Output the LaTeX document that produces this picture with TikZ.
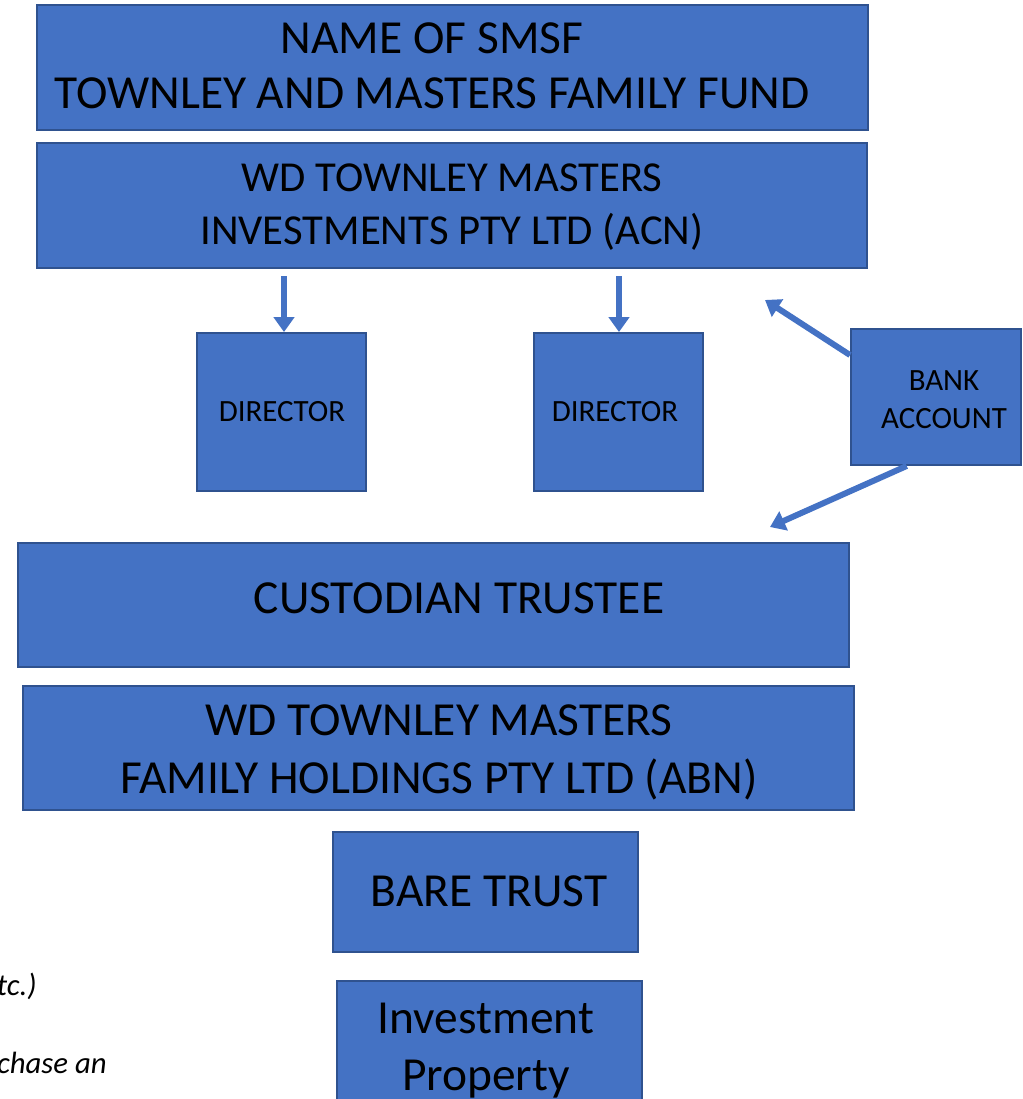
\documentclass[tikz,border=0pt]{standalone}
\usepackage{fontspec}
\setmainfont{Carlito}
\usetikzlibrary{arrows.meta,calc,positioning}
\definecolor{boxblue}{HTML}{4472C4}
\definecolor{boxedge}{HTML}{2F528F}
\tikzset{
    box/.style={draw=boxedge, fill=boxblue, line width=1.1pt, inner sep=0pt}, % the blue boxes
    bigtext/.style={font=\fontsize{27}{31.3}\selectfont, align=center, inner sep=0pt},
    midtext/.style={font=\fontsize{24.3}{30.2}\selectfont, align=center, inner sep=0pt},
    smalltext/.style={font=\fontsize{17.6}{21.6}\selectfont, align=center, inner sep=0pt},
    notetext/.style={font=\itshape\fontsize{17.5}{20}\selectfont, inner sep=0pt, anchor=base east},
    link/.style={draw=boxblue, line width=3.4pt, -{Triangle[width=11.5pt,length=8.5pt]}},
}

\begin{document}
\begin{tikzpicture}[x=0.02cm,y=-0.02cm]
  \useasboundingbox (0,0) rectangle (1023,1099);
  \clip (0,0) rectangle (1023,1099);

  % boxes
  \node[box, minimum width=16.62cm, minimum height=2.5cm]  (title) at (452.5,67.5) {};
  \node[box, minimum width=16.6cm,  minimum height=2.5cm]  (wd)    at (452,205.5) {};
  \node[box, minimum width=3.38cm,  minimum height=3.16cm] (dirA)  at (281.5,412) {};
  \node[box, minimum width=3.38cm,  minimum height=3.16cm] (dirB)  at (618.5,412) {};
  \node[box, minimum width=16.62cm, minimum height=2.48cm] (cust)  at (433.5,605) {};
  \node[box, minimum width=16.62cm, minimum height=2.48cm] (hold)  at (438.5,748) {};
  \node[box, minimum width=6.1cm,   minimum height=2.4cm]  (bare)  at (485.5,892) {};
  \node[box, minimum width=6.1cm,   minimum height=2.76cm] (prop)  at (489.5,1050) {};

  % arrows
  \coordinate (aA) at (284,276);
  \coordinate (aB) at (619,276);
  \coordinate (tWD) at (765,300);
  \coordinate (tCust) at (770,527);
  \draw[link] (aA) -- (aA |- dirA.north);
  \draw[link] (aB) -- (aB |- dirB.north);
  \node[box, minimum width=3.4cm, minimum height=2.72cm] (bank) at (936,397) {};
  \draw[link] (bank.154) -- (tWD);
  \draw[link] (bank.247) -- (tCust);

  % texts
  \node[bigtext] (title-t) at (432,65.5) {NAME OF SMSF\\TOWNLEY AND MASTERS FAMILY FUND};
  \node[midtext] (wd-t) at (452,207) {WD TOWNLEY MASTERS\\INVESTMENTS PTY LTD (ACN)};
  \node[smalltext] (dirA-t) at (282,412) {DIRECTOR};
  \node[smalltext] (dirB-t) at (615,412) {DIRECTOR};
  \node[smalltext] (bank-t) at (944,400) {BANK\\ACCOUNT};
  \node[bigtext] (cust-t) at (459,598) {CUSTODIAN TRUSTEE};
  \node[bigtext, font=\fontsize{27}{33}\selectfont] (hold-t) at (439,752) {WD TOWNLEY MASTERS\\FAMILY HOLDINGS PTY LTD (ABN)};
  \node[bigtext] (bare-t) at (489,891) {BARE TRUST};
  \node[bigtext, font=\fontsize{27}{32.4}\selectfont] (prop-t) at (486,1051) {Investment\\Property};

  % cut-off notes on the left
  \node[notetext] (note1) at (37,995) {tc.)};
  \node[notetext] (note2) at (107,1073) {chase an};
\end{tikzpicture}
\end{document}
